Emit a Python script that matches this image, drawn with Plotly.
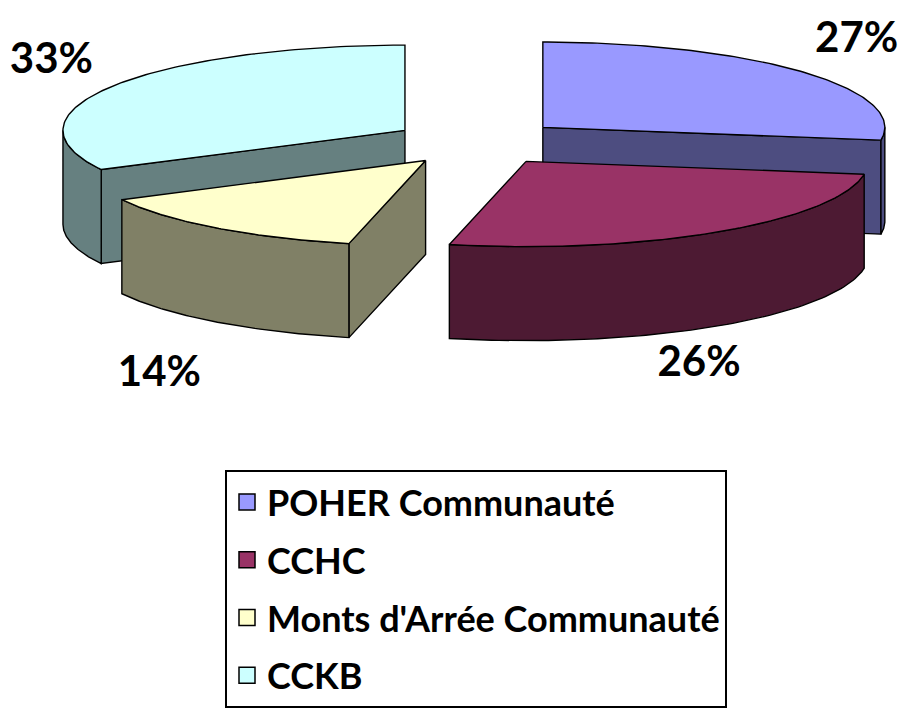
import numpy as np
import plotly.graph_objects as go

# ---- data ----
categories = ["POHER Communauté", "CCHC", "Monts d'Arrée Communauté", "CCKB"]
shares = [27.4, 26.2, 13.8, 32.6]
pct_labels = ["27%", "26%", "14%", "33%"]

# ---- style ----
top_colors = ["#9999FF", "#993366", "#FFFFCC", "#CCFFFF"]
side_colors = ["#4D4D80", "#4D1A33", "#808066", "#668080"]
label_reach_x = [1.46, 1.15, 1.52, 1.46]
label_reach_y = [0.462, 0.470, 0.532, 0.455]
TILT = 0.254      # vertical squash of the pie plane
DEPTH = 0.28      # thickness of the pie
EXPLODE = 0.25    # explode distance (fraction of radius)
EXPLODE_V = 0.27
FONT = "Lato"

total = sum(shares)
bounds = np.concatenate([[0], np.cumsum(shares)]) / total * 360.0


def proj(theta, rho, z, off):
    t = np.radians(theta)
    u = off[0] + rho * np.sin(t)
    v = off[1] + rho * np.cos(t)
    return u, v * TILT + z


fig = go.Figure()


def poly(xs, ys, color):
    xs = list(xs) + [xs[0]]
    ys = list(ys) + [ys[0]]
    fig.add_trace(go.Scatter(x=xs, y=ys, mode="lines", fill="toself",
                             fillcolor=color, line=dict(color="black", width=1.4),
                             hoverinfo="skip", showlegend=False))


slices = []
for i in range(len(shares)):
    a0, a1 = bounds[i], bounds[i + 1]
    mid = np.radians((a0 + a1) / 2)
    off = (EXPLODE * np.sin(mid), EXPLODE_V * np.cos(mid))
    slices.append((off[1], i, a0, a1, off))

# back to front
slices.sort(key=lambda s: -s[0])

for _, i, a0, a1, off in slices:
    walls = []
    if np.cos(np.radians(a0 - 90)) < -1e-9:
        walls.append(a0)
    if np.cos(np.radians(a1 + 90)) < -1e-9:
        walls.append(a1)
    for a in walls:
        cx0, cy0 = proj(a, 0, 0, off)
        rx0, ry0 = proj(a, 1, 0, off)
        poly([cx0, rx0, rx0, cx0], [cy0, ry0, ry0 - DEPTH, cy0 - DEPTH], side_colors[i])
    lo, hi = max(a0, 90), min(a1, 270)
    if hi > lo:
        th = np.linspace(lo, hi, 80)
        xt, yt = proj(th, 1, 0, off)
        xs = np.concatenate([xt, xt[::-1]])
        ys = np.concatenate([yt, (yt - DEPTH)[::-1]])
        poly(xs, ys, side_colors[i])
    th = np.linspace(a0, a1, 120)
    xt, yt = proj(th, 1, 0, off)
    cx0, cy0 = proj(a0, 0, 0, off)
    poly(np.concatenate([[cx0], xt]), np.concatenate([[cy0], yt]), top_colors[i])

# percentage labels
lx, ly = [], []
for i in range(len(shares)):
    mid = np.radians((bounds[i] + bounds[i + 1]) / 2)
    x = label_reach_x[i] * np.sin(mid)
    y = label_reach_y[i] * np.cos(mid)
    if np.cos(mid) < 0:
        y -= 0.275
    lx.append(x)
    ly.append(y)
fig.add_trace(go.Scatter(x=lx, y=ly, mode="text", text=pct_labels,
                         textfont=dict(family=FONT, size=42, color="black", weight="bold"),
                         hoverinfo="skip", showlegend=False))

# legend entries
for i, cat in enumerate(categories):
    fig.add_trace(go.Scatter(x=[None], y=[None], mode="markers", name=cat,
                             legendgroup=f"g{i}", legendrank=i + 1,
                             marker=dict(symbol="square", size=16, color=top_colors[i],
                                         line=dict(color="black", width=1.5))))

W, H = 905, 708
CX, CY, R = 478, 145, 342
fig.update_layout(
    width=W, height=H,
    margin=dict(l=0, r=0, t=0, b=0),
    paper_bgcolor="white", plot_bgcolor="white",
    xaxis=dict(visible=False, range=[-CX / R, (W - CX) / R], fixedrange=True),
    yaxis=dict(visible=False, range=[(CY - H) / R, CY / R], fixedrange=True),
    showlegend=True,
    legend=dict(x=225 / W, y=1 - 479 / H, xanchor="left", yanchor="top",
                bordercolor="black", borderwidth=2, bgcolor="white",
                font=dict(family=FONT, size=36, color="black", weight="bold"),
                tracegroupgap=8, itemsizing="trace"),
)

fig.write_html("out.html", config={"displayModeBar": False},
               post_script="document.body.style.margin='0px';")
